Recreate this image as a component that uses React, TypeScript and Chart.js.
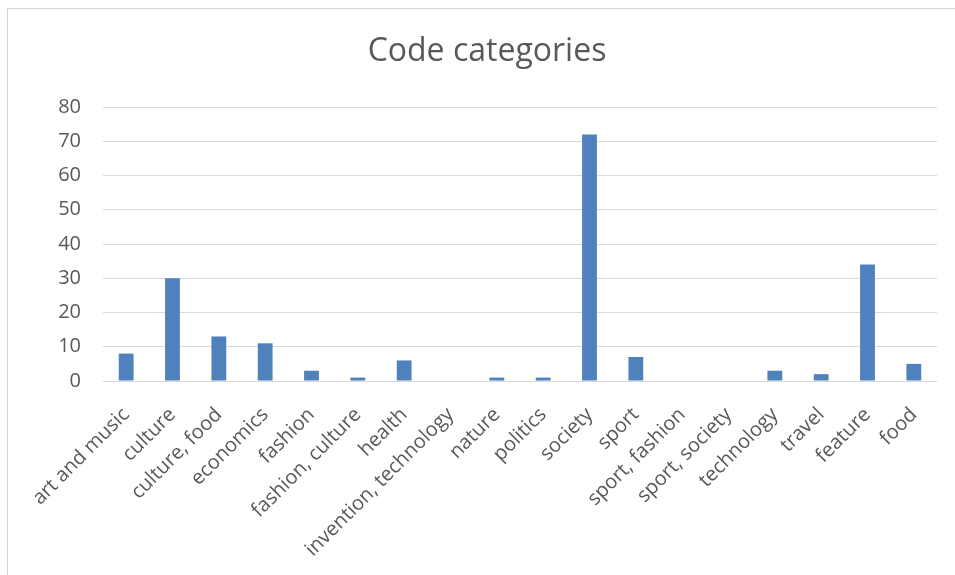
import React, { useEffect, useRef } from "react";
import { Chart, registerables } from "chart.js";

Chart.register(...registerables);

const categories = [
  "art and music",
  "culture",
  "culture, food",
  "economics",
  "fashion",
  "fashion, culture",
  "health",
  "invention, technology",
  "nature",
  "politics",
  "society",
  "sport",
  "sport, fashion",
  "sport, society",
  "technology",
  "travel",
  "feature",
  "food",
];
const counts = [8, 30, 13, 11, 3, 1, 6, 0, 1, 1, 72, 7, 0, 0, 3, 2, 34, 5];
const yTicks = [0, 10, 20, 30, 40, 50, 60, 70, 80];
const titleText = "Code categories";

export default function App() {
  const ref = useRef<HTMLCanvasElement | null>(null);
  useEffect(() => {
    if (!ref.current) return;
    const chart = new Chart(ref.current, {
      type: "bar",
      data: {
        labels: categories,
        datasets: [
          {
            label: "Count",
            data: counts,
            backgroundColor: "#4f81bd",
            borderWidth: 0,
            barPercentage: 0.32,
            categoryPercentage: 1,
          },
        ],
      },
      options: {
        animation: false,
        responsive: false,
        maintainAspectRatio: false,
        layout: { padding: { left: 29, right: 16, top: 0, bottom: 0 } },
        plugins: {
          legend: { display: false },
          tooltip: { enabled: false },
          title: {
            display: true,
            text: titleText,
            color: "#595959",
            font: { family: "'Open Sans'", size: 32, weight: "normal", lineHeight: 1.2 },
            padding: { top: 24, bottom: 35.6 },
          },
        },
        scales: {
          x: {
            grid: { display: false },
            border: { display: false },
            ticks: {
              color: "#595959",
              font: { family: "'Open Sans'", size: 20 },
              maxRotation: 45,
              minRotation: 45,
              autoSkip: false,
              padding: 14,
            },
            afterFit: (scale: any) => {
              scale.height = 194;
            },
          },
          y: {
            min: 0,
            max: 80,
            afterBuildTicks: (scale: any) => {
              scale.ticks = yTicks.map((v) => ({ value: v }));
            },
            grid: { color: "#d9d9d9", lineWidth: 1, drawTicks: false },
            border: { display: false },
            ticks: {
              color: "#595959",
              font: { family: "'Open Sans'", size: 20 },
              padding: 22,
            },
            afterFit: (scale: any) => {
              scale.width = 66;
            },
          },
        },
      },
    });
    return () => chart.destroy();
  }, []);
  return (
    <div
      style={{
        position: "absolute",
        left: 7,
        top: 8,
        width: 947,
        height: 566,
        borderTop: "1px solid #d4d4d4",
        borderLeft: "1px solid #d4d4d4",
        background: "#fff",
      }}
    >
      <canvas ref={ref} width={945} height={566} style={{ display: "block" }} />
    </div>
  );
}
